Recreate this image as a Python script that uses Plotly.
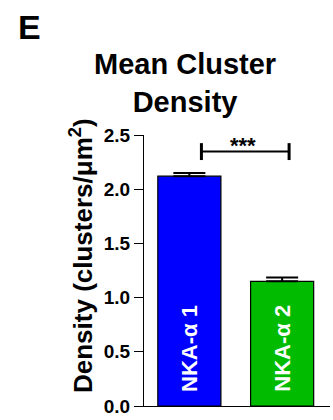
import plotly.graph_objects as go

# ---- data ----
categories = ["NKA-α1", "NKA-α2"]
bar_labels = ["NKA-α 1", "NKA-α 2"]
means = [2.12, 1.15]
sems = [0.03, 0.035]
bar_colors = ["#0000FF", "#00BB00"]
y_ticks = [0.0, 0.5, 1.0, 1.5, 2.0, 2.5]
sig_text = "***"
sig_bracket_x = [0.13, 1.075]
sig_bracket_y = 2.347
label_y = 0.53

FONT = "Arial, 'Liberation Sans', sans-serif"

# plot area geometry (pixels)
W, H = 333, 420
L, R, T, B = 143.5, 3, 135, 8
pw = W - L - R
ph = H - T - B
x_range = [-0.489, 1.516]
y_range = [0, 2.5]

def px_to_paper_x(px):
    return (px - L) / pw

def px_to_paper_y(py):
    return (H - B - py) / ph

xs = list(range(len(categories)))

fig = go.Figure()
fig.add_trace(go.Bar(
    x=xs, y=means, width=0.68,
    marker=dict(color=bar_colors, line=dict(color="black", width=1.2)),
    error_y=dict(type="data", array=sems, arrayminus=[0] * len(sems),
                 symmetric=False, color="black", thickness=2, width=16),
    showlegend=False, hoverinfo="skip",
))

annotations = []
for xi, lab in zip(xs, bar_labels):
    annotations.append(dict(
        x=xi, y=label_y, xref="x", yref="y", text=lab, textangle=-90,
        showarrow=False, font=dict(family=FONT, size=22, color="white", weight=700),
        xanchor="center", yanchor="middle",
    ))

# significance bracket
x0, x1 = sig_bracket_x
tick_h = 0.078
shapes = [
    dict(type="line", xref="x", yref="y", x0=x0, x1=x1, y0=sig_bracket_y, y1=sig_bracket_y,
         line=dict(color="black", width=2)),
    dict(type="line", xref="x", yref="y", x0=x0, x1=x0, y0=sig_bracket_y - tick_h, y1=sig_bracket_y + tick_h,
         line=dict(color="black", width=3)),
    dict(type="line", xref="x", yref="y", x0=x1, x1=x1, y0=sig_bracket_y - tick_h, y1=sig_bracket_y + tick_h,
         line=dict(color="black", width=3)),
]
annotations.append(dict(
    x=(x0 + x1) / 2 - 0.02, y=sig_bracket_y, xref="x", yref="y", text=sig_text,
    showarrow=False, font=dict(family=FONT, size=22, color="black", weight=700),
    xanchor="center", yanchor="bottom", yshift=-8,
))

# title
annotations.append(dict(
    x=px_to_paper_x(185), y=px_to_paper_y(44), xref="paper", yref="paper",
    text="Mean Cluster<br>Density", showarrow=False, align="center",
    font=dict(family=FONT, size=29, color="black", weight=700),
    xanchor="center", yanchor="top",
))
# panel letter
annotations.append(dict(
    x=px_to_paper_x(15), y=px_to_paper_y(3), xref="paper", yref="paper",
    text="E", showarrow=False,
    font=dict(family=FONT, size=34, color="black", weight=700),
    xanchor="left", yanchor="top",
))
# y axis title
annotations.append(dict(
    x=px_to_paper_x(81), y=px_to_paper_y(258), xref="paper", yref="paper",
    text="Density (clusters/μm<sup>2</sup>)", textangle=-90, showarrow=False,
    font=dict(family=FONT, size=26, color="black", weight=700),
    xanchor="center", yanchor="middle",
))

fig.update_layout(
    width=W, height=H,
    margin=dict(l=L, r=R, t=T, b=B, pad=0),
    paper_bgcolor="white", plot_bgcolor="white",
    shapes=shapes, annotations=annotations,
    xaxis=dict(range=x_range, showline=True, linecolor="black", linewidth=1.2,
               showticklabels=False, ticks="", showgrid=False, zeroline=False, fixedrange=True),
    yaxis=dict(range=y_range, showline=True, linecolor="black", linewidth=1.2,
               tickvals=y_ticks, ticktext=[f"{v:.1f}" for v in y_ticks],
               ticks="outside", ticklen=9, tickwidth=1.2, tickcolor="black",
               tickfont=dict(family=FONT, size=19, color="black", weight=700),
               ticklabeloverflow="allow",
               showgrid=False, zeroline=False, fixedrange=True),
)

fig.write_html("out.html")
